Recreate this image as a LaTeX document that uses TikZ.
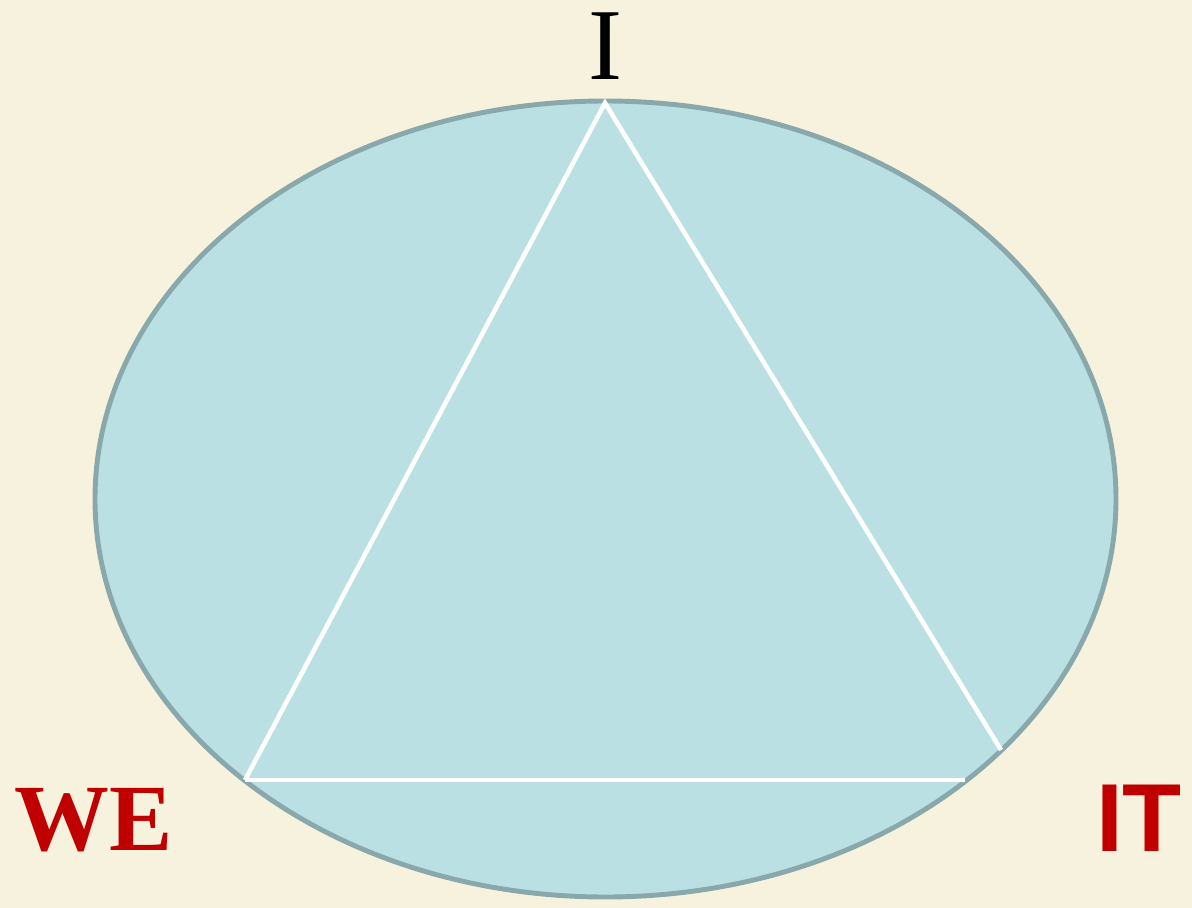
\documentclass[tikz,border=0pt]{standalone}
\usepackage{fontspec}
\setmainfont{Liberation Serif}
\newfontfamily\armfont{Liberation Sans}
\usetikzlibrary{shapes.geometric}
\definecolor{paper}{HTML}{F7F2DE}
\definecolor{pool}{HTML}{BBE0E3}
\definecolor{rim}{HTML}{89A8AB}
\definecolor{wered}{HTML}{C00000}
\begin{document}
\begin{tikzpicture}[
	x=0.02cm, y=-0.02cm,
	e/.style = {ellipse, draw=rim, fill=pool, line width=2.8pt, minimum width=1021*0.02cm, minimum height=796*0.02cm, inner sep=0},
	l/.style = {draw=white, line width=2.6pt},
	lab/.style = {inner sep=0, anchor=base}
	]
	\fill[paper] (0,0) rectangle (1192,908);
	\useasboundingbox (0,0) rectangle (1192,908);

	%Nodes
	\node[e]	(pool)	at	(605.5, 499)	{};
	\coordinate	(top)	at	(605, 103);
	\coordinate	(bl)	at	(245, 780);
	\coordinate	(br)	at	(965, 780);
	\coordinate	(rt)	at	(1001, 750);

	\node[lab]	(i)		at	(605, 80)	{\fontsize{58}{60}\selectfont I};
	\node[lab, text=wered]	(we)	at	(94, 850)	{\fontsize{54}{60}\selectfont\bfseries WE};
	\node[lab, text=wered]	(it)	at	(1139, 851)	{\fontsize{55}{60}\selectfont\armfont\bfseries IT};

	%Lines
	\draw[l]	(bl)	--	(top)	--	(rt);
	\draw[l]	(bl)	--	(br);
\end{tikzpicture}
\end{document}
